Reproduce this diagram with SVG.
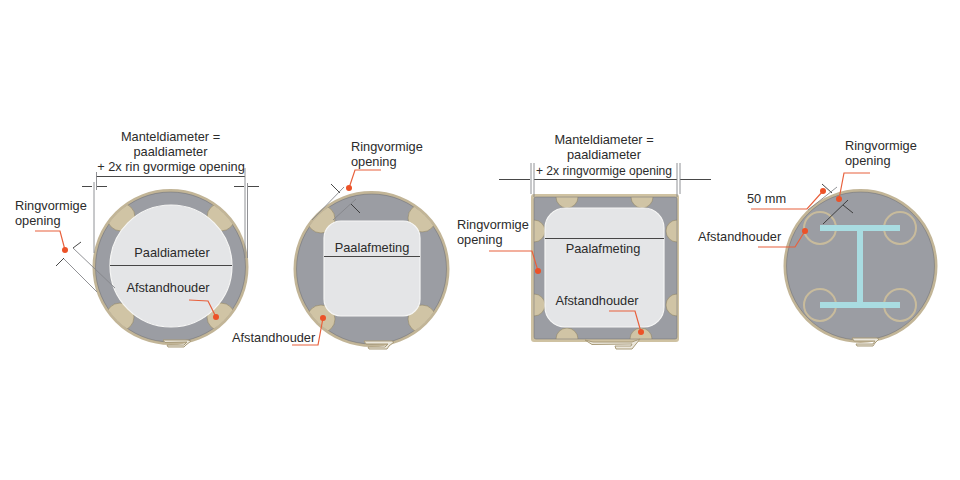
<svg xmlns="http://www.w3.org/2000/svg" width="960" height="480" viewBox="0 0 960 480">
<style>
text{font-family:"Liberation Sans",Arial,sans-serif;font-size:12.8px;fill:#2b2b2b}
.m{text-anchor:middle}
.gray{fill:#9b9da3}
.sheath{fill:#9b9da3;stroke:#c2b597;stroke-width:3}
.liner{fill:none;stroke:#6f6f70;stroke-width:.5}
.pile{fill:#e4e5e7;stroke:#f6f6f5;stroke-width:1.2}
.sp{fill:#d0c4a5;stroke:#8f8468;stroke-width:.6}
.ring{fill:none;stroke:#c8bb9c;stroke-width:2}
.beam{fill:#a9dce1}
.dim{fill:none;stroke:#333;stroke-width:.9}
.thin{fill:none;stroke:#85868a;stroke-width:.9}
.lead{fill:none;stroke:#e8603c;stroke-width:1.2}
.dot{fill:#ec5228}
.seam{fill:#ebe7dc;stroke:#a89a78;stroke-width:1}
</style>
<defs>
<clipPath id="c1"><circle cx="170.500" cy="267" r="75.500"/></clipPath>
<clipPath id="c2"><circle cx="371.500" cy="269" r="75.500"/></clipPath>
<clipPath id="c3"><rect x="534" y="197" width="143" height="142" rx="2"/></clipPath>
</defs>
<rect width="960" height="480" fill="#fff"/>

<g id="node-round-pile">
<circle class="sheath" cx="170.500" cy="267" r="76.500"/>
<circle class="liner" cx="170.500" cy="267" r="75"/>
<g clip-path="url(#c1)">
<circle class="sp" cx="121" cy="217" r="14"/><circle class="sp" cx="221" cy="217" r="14"/>
<circle class="sp" cx="120" cy="317" r="14"/><circle class="sp" cx="221" cy="317" r="14"/>
</g>
<circle class="pile" cx="171" cy="266" r="61"/>
<path class="seam" d="M163 340H188L191 341 186 345 184 347H168L167 345H184L187 342 165 342.500Z"/>
<text class="m" x="170.500" y="141">Manteldiameter =</text>
<text class="m" x="170.500" y="156">paaldiameter</text>
<text class="m" x="171" y="171">+ 2x rin gvormige opening</text>
<text x="15" y="210">Ringvormige</text>
<text x="15" y="225">opening</text>
<text class="m" x="172" y="257">Paaldiameter</text>
<text class="m" x="168" y="292">Afstandhouder</text>
</g>

<g id="node-square-pile-in-round">
<circle class="sheath" cx="371.500" cy="269" r="76.500"/>
<circle class="liner" cx="371.500" cy="269" r="75"/>
<g clip-path="url(#c2)">
<circle class="sp" cx="321" cy="219" r="14"/><circle class="sp" cx="422" cy="218" r="14"/>
<circle class="sp" cx="321" cy="319" r="14"/><circle class="sp" cx="422" cy="319" r="14"/>
</g>
<rect class="pile" x="324" y="221" width="96" height="95" rx="17"/>
<path class="seam" d="M364 341H392L394 342 389 346 387 349H369L368 347H385L388 344 366 344Z"/>
<text x="351" y="151">Ringvormige</text>
<text x="351" y="166">opening</text>
<text class="m" x="372" y="252">Paalafmeting</text>
<text x="232" y="342">Afstandhouder</text>
</g>

<g id="node-square-pile-in-square">
<rect x="531" y="194" width="148" height="148" rx="3" fill="#cfc2a2"/>
<rect class="gray" x="534" y="197" width="143" height="142" rx="2"/>
<g clip-path="url(#c3)">
<circle class="sp" cx="567" cy="197" r="11"/><circle class="sp" cx="642" cy="197" r="11"/>
<circle class="sp" cx="534" cy="231" r="11"/><circle class="sp" cx="677" cy="231" r="11"/>
<circle class="sp" cx="534" cy="305" r="11"/><circle class="sp" cx="677" cy="305" r="11"/>
<circle class="sp" cx="567" cy="339" r="11"/><circle class="sp" cx="641" cy="339" r="11"/>
</g>
<rect class="liner" x="534" y="197" width="143" height="142" rx="2"/>
<rect class="pile" x="545" y="208" width="119" height="119" rx="20"/>
<path class="seam" d="M585 340L593 342H632L640 339 636 344 632 349H616L615 346 631 346 632 344 592 344.500Z"/>
<text class="m" x="604" y="144">Manteldiameter =</text>
<text class="m" x="604" y="159">paaldiameter</text>
<text class="m" x="604" y="175" style="font-size:12.100px">+ 2x ringvormige opening</text>
<text x="457" y="229">Ringvormige</text>
<text x="457" y="244">opening</text>
<text class="m" x="603" y="253">Paalafmeting</text>
<text class="m" x="597" y="305">Afstandhouder</text>
</g>

<g id="node-h-beam">
<circle class="sheath" cx="860.500" cy="266" r="75.500"/>
<circle class="liner" cx="860.500" cy="266" r="74"/>
<circle class="ring" cx="820" cy="228" r="16"/><circle class="ring" cx="900" cy="228" r="16"/>
<circle class="ring" cx="820" cy="305" r="16"/><circle class="ring" cx="900" cy="305" r="16"/>
<rect class="beam" x="820" y="225" width="80" height="6"/>
<rect class="beam" x="820" y="302" width="80" height="6"/>
<rect class="beam" x="857" y="231" width="6" height="71"/>
<path class="seam" d="M852 338H877L879 339 875 343 873 346H857L856 344H873L875 341 854 341Z"/>
<text x="845" y="150">Ringvormige</text>
<text x="845" y="165">opening</text>
<text x="747" y="203">50 mm</text>
<text x="698" y="241">Afstandhouder</text>
</g>

<g id="connectors">
<path class="dim" d="M96 176.500H245M82 186.500H92M97 186.500H107M234 186.500H244M248 186.500H259M110 265.500H232"/>
<path class="thin" d="M94 182V253M96.500 172V190M245 168V258M247.500 183V258M73 248L115 288M63 258L97 292"/>
<path class="dim" d="M73 248L81 242M56 266L64 258"/>
<path class="lead" d="M35 231H60L65 250M189 300L208 301L216 317"/>
<circle class="dot" cx="65" cy="250" r="3"/><circle class="dot" cx="216" cy="317" r="3"/>

<path class="dim" d="M324 256.500H420M331 184L340 193M351 204L360 213"/>
<path class="thin" d="M344 187L312 220M356 199L333 220"/>
<path class="lead" d="M381 170H355L349 188M292 345H318L323 318"/>
<circle class="dot" cx="349" cy="188" r="3"/><circle class="dot" cx="323" cy="318" r="3"/>

<path class="dim" d="M499 179.500H530M534 179.500H677M680 179.500H711M545 238.500H664"/>
<path class="thin" d="M531 163V194M534 163V197M677 163V197M680 163V194"/>
<path class="lead" d="M489 251H532L538 271M609 311H635L641 332"/>
<circle class="dot" cx="538" cy="271" r="3"/><circle class="dot" cx="641" cy="332" r="3"/>

<path class="dim" d="M822 184L832 193M843 205L853 213"/>
<path class="thin" d="M837 187L808 210"/>
<path class="dim" d="M848 200L823 224" stroke-width=".8"/>
<path class="lead" d="M870 173H844L839 199M751 209H807L823 191M758 247H795L805 231"/>
<circle class="dot" cx="839" cy="199" r="3"/><circle class="dot" cx="823" cy="191" r="3"/><circle class="dot" cx="805" cy="231" r="3"/>
</g>
</svg>
